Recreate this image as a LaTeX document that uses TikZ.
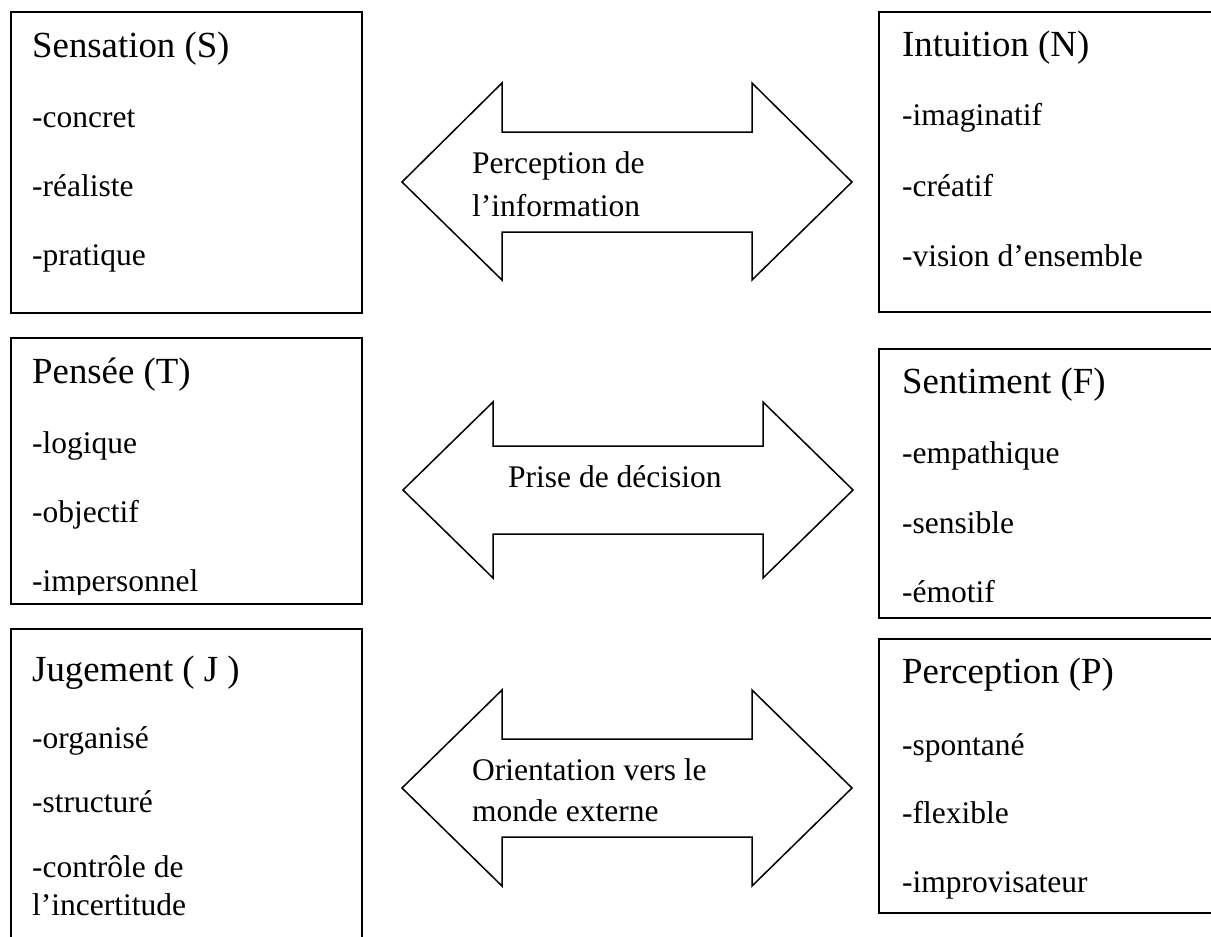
\documentclass[tikz,border=0pt]{standalone}
\usepackage{fontspec}
\setmainfont{Liberation Serif}
\tikzset{
  boxline/.style={draw, line width=1.7pt, line join=miter},
  dblarrow/.style={draw, line width=1.5pt, line join=miter, fill=white},
  headtxt/.style={inner sep=0pt, anchor=base west, font=\fontsize{36.8}{42}\selectfont},
  itemtxt/.style={inner sep=0pt, anchor=base west, font=\fontsize{31.5}{36}\selectfont},
}
\begin{document}
\begin{tikzpicture}[x=1pt,y=-1pt]
\useasboundingbox (0,0) rectangle (1211,937);

% ---- Sensation (S)
\draw[boxline] (11,12) rectangle (362,313);
\node[headtxt] (sH) at (32,57) {Sensation (S)};
\node[itemtxt] (s1) at (32,127) {-concret};
\node[itemtxt] (s2) at (32,196) {-réaliste};
\node[itemtxt] (s3) at (32,265) {-pratique};

% ---- Intuition (N)
\draw[boxline] (1213,12) -- (879,12) -- (879,312) -- (1213,312);
\node[headtxt] (nH) at (902,56) {Intuition (N)};
\node[itemtxt] (n1) at (902,125) {-imaginatif};
\node[itemtxt] (n2) at (902,196) {-créatif};
\node[itemtxt] (n3) at (902,266) {-vision d’ensemble};

% ---- Pensée (T)
\draw[boxline] (11,338) rectangle (362,604);
\node[headtxt] (tH) at (32,383) {Pensée (T)};
\node[itemtxt] (t1) at (32,453) {-logique};
\node[itemtxt] (t2) at (32,522) {-objectif};
\begin{scope}
  \clip (11,338) rectangle (362,594);
  \node[itemtxt] (t3) at (32,591) {-impersonnel};
\end{scope}

% ---- Sentiment (F)
\draw[boxline] (1213,349) -- (879,349) -- (879,618) -- (1213,618);
\node[headtxt] (fH) at (902,393) {Sentiment (F)};
\node[itemtxt] (f1) at (902,463) {-empathique};
\node[itemtxt] (f2) at (902,533) {-sensible};
\node[itemtxt] (f3) at (902,602) {-émotif};

% ---- Jugement (J)
\draw[boxline] (11,940) -- (11,629) -- (362,629) -- (362,940);
\node[headtxt] (jH) at (32,681) {Jugement ( J )};
\node[itemtxt] (j1) at (32,748) {-organisé};
\node[itemtxt] (j2) at (32,812) {-structuré};
\node[itemtxt] (j3) at (32,877) {-contrôle de};
\node[itemtxt] (j4) at (32,915) {l’incertitude};

% ---- Perception (P)
\draw[boxline] (1213,639) -- (879,639) -- (879,913) -- (1213,913);
\node[headtxt] (pH) at (902,683) {Perception (P)};
\node[itemtxt] (p1) at (902,755) {-spontané};
\node[itemtxt] (p2) at (902,823) {-flexible};
\node[itemtxt] (p3) at (902,892) {-improvisateur};

% ---- double arrows
\draw[dblarrow] (402,182) -- (502,83) -- (502,132) -- (752,132) -- (752,83) -- (852,182)
  -- (752,280) -- (752,232) -- (502,232) -- (502,280) -- cycle;
\node[itemtxt] (a1a) at (472,173) {Perception de};
\node[itemtxt] (a1b) at (472,216) {l’information};

\draw[dblarrow] (403,490) -- (493,402) -- (493,446) -- (763,446) -- (763,402) -- (853,490)
  -- (763,578) -- (763,534) -- (493,534) -- (493,578) -- cycle;
\node[itemtxt] (a2) at (508,487) {Prise de décision};

\draw[dblarrow] (402,788) -- (502,690) -- (502,739) -- (752,739) -- (752,690) -- (852,788)
  -- (752,886) -- (752,837) -- (502,837) -- (502,886) -- cycle;
\node[itemtxt] (a3a) at (472,780) {Orientation vers le};
\node[itemtxt] (a3b) at (472,821) {monde externe};
\end{tikzpicture}
\end{document}
